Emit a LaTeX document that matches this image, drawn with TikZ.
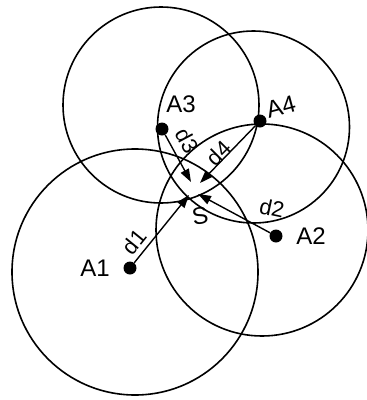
\documentclass[tikz,border=0pt]{standalone}
\usepackage{fontspec}
\setmainfont{Liberation Sans}
\usetikzlibrary{arrows.meta}
\begin{document}
\begin{tikzpicture}[x=1pt,y=-1pt,
  ring/.style={line width=1.6pt},
  anchorpt/.style={circle,fill=black,inner sep=0pt,minimum size=13pt},
  dist/.style={line width=1.4pt,-{Triangle[length=13pt,width=9pt]}},
  lbl/.style={font=\fontsize{24}{24}\selectfont,inner sep=0pt},
  dlbl/.style={font=\fontsize{22}{22}\selectfont,inner sep=0pt}]
\useasboundingbox (0,0) rectangle (367,400);
% circle centres
\coordinate (c1) at (135,272);
\coordinate (c2) at (262,230);
\coordinate (c3) at (161,105);
\coordinate (c4) at (253.5,127);
\draw[ring] (c1) circle[radius=123];
\draw[ring] (c2) circle[radius=106];
\draw[ring] (c3) circle[radius=98];
\draw[ring] (c4) circle[radius=96];
% anchors
\node[anchorpt] (A1) at (130,268) {};
\node[anchorpt] (A2) at (276,236) {};
\node[anchorpt] (A3) at (162,129) {};
\node[anchorpt] (A4) at (260,121) {};
% arrow tips near S
\coordinate (t1) at (189,195);
\coordinate (t2) at (198,194);
\coordinate (t3) at (191,182);
\coordinate (t4) at (200,183);
\draw[dist] (A1) -- (t1);
\draw[dist] (A2) -- (t2);
\draw[dist] (A3) -- (t3);
\draw[dist] (A4) -- (t4);
% labels
\node[lbl] (lA1) at (95,268) {A1};
\node[lbl] (lA2) at (311,236) {A2};
\node[lbl] (lA3) at (181,104) {A3};
\node[lbl,rotate=15] (lA4) at (281,107) {A4};
\node[lbl,rotate=10] (lS) at (200,216) {S};
\node[dlbl,rotate=51] (ld1) at (134,242) {d1};
\node[dlbl,rotate=-12] (ld2) at (272,208) {d2};
\node[dlbl,rotate=-62] (ld3) at (187,141) {d3};
\node[dlbl,rotate=45] (ld4) at (219,153) {d4};
\end{tikzpicture}
\end{document}
